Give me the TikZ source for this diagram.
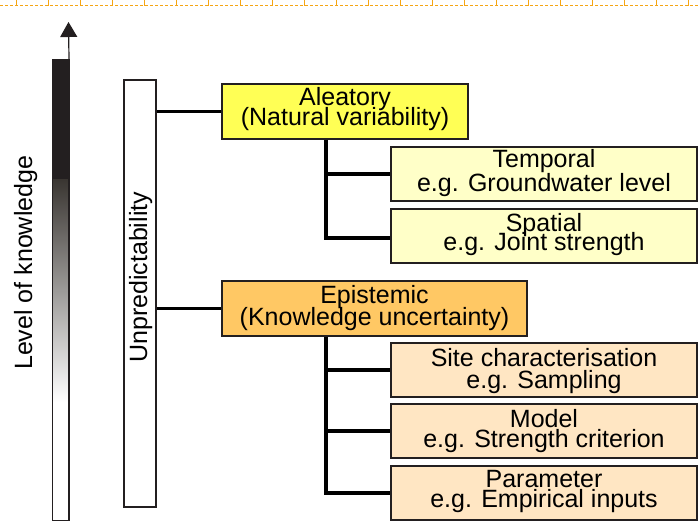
\documentclass[tikz,border=0pt]{standalone}
\usepackage{fontspec}
\setmainfont{Liberation Sans}
\usetikzlibrary{arrows.meta}
\definecolor{aleaY}{RGB}{255,255,85}
\definecolor{aleaSub}{RGB}{255,255,200}
\definecolor{episO}{RGB}{255,200,100}
\definecolor{episSub}{RGB}{255,230,195}
\definecolor{rulerO}{RGB}{245,165,20}
\definecolor{ink}{RGB}{35,31,32}
\definecolor{fadeTop}{RGB}{58,54,50}

\begin{document}
\begin{tikzpicture}[x=1pt,y=-1pt,
  box/.style={draw=ink, line width=1.6pt, inner sep=0pt, minimum height=54pt},
  mainbox/.style={box, minimum height=55pt},
  subbox/.style={box, minimum width=306pt},
  txt/.style={anchor=base, inner sep=0pt, font=\fontsize{25}{25}\selectfont},
  conn/.style={line width=3.6pt, black},
]
\useasboundingbox (0,0) rectangle (698,521);

% ruler strip along the top edge
\draw[rulerO, line width=1pt, dash pattern=on 3pt off 2pt] (0,6) -- (698,6);
\foreach \x in {16,48,...,688} \draw[rulerO, line width=1pt] (\x,0) -- (\x,6);

% knowledge scale: black fading to white
\fill[ink] (52,60) rectangle (68.5,180);
\shade[top color=fadeTop, bottom color=white] (52,180) rectangle (68.5,402);
\node[draw=ink, line width=1pt, inner sep=0pt, minimum width=16.5pt, minimum height=460pt] (bar) at (60.25,290) {};
\draw[ink, line width=2pt] (bar.north east) -- (bar.south east);
\coordinate (tip) at (68.5,22);
\draw[ink, line width=1.2pt, -{Triangle[width=17pt,length=15pt]}] (bar.north east) -- (tip);
\node[txt, rotate=90, anchor=base west] (lok) at (32,370) {Level of knowledge};

% unpredictability column
\node[draw=ink, line width=1.5pt, inner sep=0pt, minimum width=32pt, minimum height=427pt] (unp) at (140,293.5) {};
\node[txt, rotate=90, anchor=base west] (unpt) at (147,363) {Unpredictability};

% main categories
\node[mainbox, fill=aleaY, minimum width=246pt] (alea) at (345,111.5) {};
\node[mainbox, fill=episO, minimum width=305pt] (epis) at (374.5,308.5) {};

% sub categories
\node[subbox, fill=aleaSub] (temp) at (544,174) {};
\node[subbox, fill=aleaSub] (spat) at (544,236) {};
\node[subbox, fill=episSub] (site) at (544,370) {};
\node[subbox, fill=episSub] (model) at (544,431) {};
\node[subbox, fill=episSub] (param) at (544,493) {};

% connectors
\draw[conn] (unp.east |- alea.west) -- (alea.west);
\draw[conn] (unp.east |- epis.west) -- (epis.west);
\coordinate (aTrunk) at ([xshift=105pt]alea.south west);
\coordinate (eTrunk) at ([xshift=105pt]epis.south west);
\draw[conn] (aTrunk) |- (temp.west);
\draw[conn] (aTrunk) |- ([yshift=-2pt]spat.west);
\draw[conn] (eTrunk) |- (site.west);
\draw[conn] (eTrunk) |- (model.west);
\draw[conn] (eTrunk) |- (param.west);

% labels
\node[txt] (alea1) at (345,106) {Aleatory};
\node[txt] (alea2) at (345,125.5) {(Natural variability)};
\node[txt] (temp1) at (544,168) {Temporal};
\node[txt] (temp2) at (544,192) {e.g. Groundwater level};
\node[txt] (spat1) at (544,231.5) {Spatial};
\node[txt] (spat2) at (544,250.5) {e.g. Joint strength};
\node[txt] (epis1) at (374.5,303) {Epistemic};
\node[txt] (epis2) at (374.5,325) {(Knowledge uncertainty)};
\node[txt] (site1) at (544,366) {Site characterisation};
\node[txt] (site2) at (544,388) {e.g. Sampling};
\node[txt] (model1) at (544,427.5) {Model};
\node[txt] (model2) at (544,447) {e.g. Strength criterion};
\node[txt] (param1) at (544,487.5) {Parameter};
\node[txt] (param2) at (544,507) {e.g. Empirical inputs};
\end{tikzpicture}
\end{document}
